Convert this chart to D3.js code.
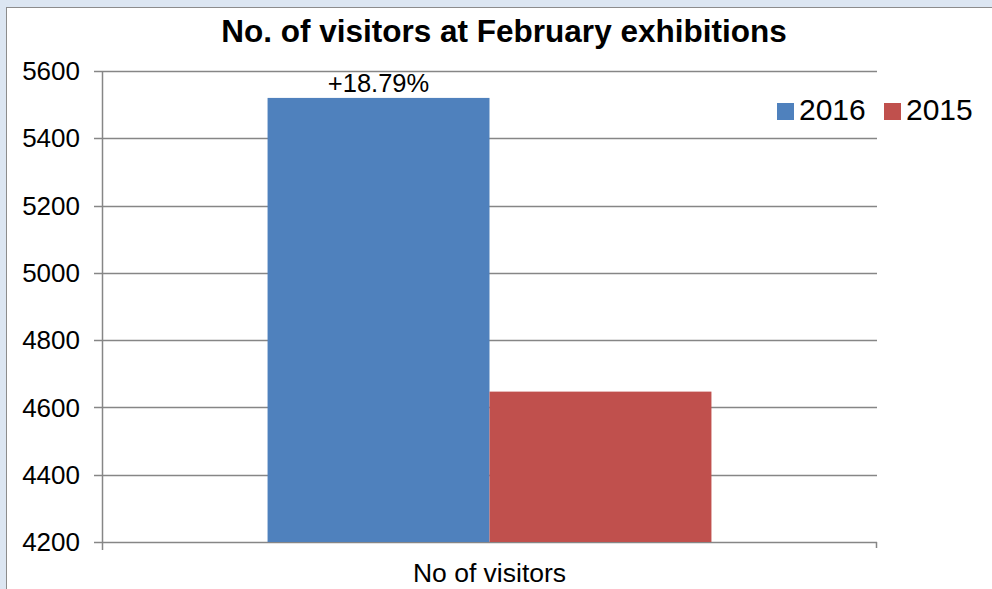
<!DOCTYPE html>
<html>
<head>
<meta charset="utf-8">
<script src="https://cdn.jsdelivr.net/npm/d3@7"></script>
<style>
  body { margin: 0; background: #dce6f2; }
  svg { display: block; font-family: 'Liberation Sans', Arial, sans-serif; }
</style>
</head>
<body>
<div id="chart"></div>
<script>
var categories = ['No of visitors']
var seriesNames = ['2016', '2015']
var seriesValues = [5520, 4647]
var seriesColors = ['#4f81bd', '#c0504d']
var yTicks = [4200, 4400, 4600, 4800, 5000, 5200, 5400, 5600]
var barLabel = '+18.79%'

var width = 992
var height = 589
var margin = { top: 71, left: 102, right: 115, bottom: 46 }

var svg = d3
  .select('#chart')
  .append('svg')
  .attr('width', width)
  .attr('height', height)

// chart frame
svg
  .append('rect')
  .attr('x', 6.5)
  .attr('y', 7.5)
  .attr('width', width)
  .attr('height', height)
  .attr('fill', 'white')
  .attr('stroke', '#8c8c8c')

var g = svg.append('g').attr('transform', 'translate(' + margin.left + ',' + margin.top + ')')
var innerW = width - margin.left - margin.right
var innerH = height - margin.top - margin.bottom - 1

var yScale = d3.scaleLinear().domain([4200, 5600]).range([innerH, 0])
var xScale = d3.scaleBand().domain(categories).range([0, innerW]).paddingInner(0).paddingOuter(0.373)
var xSub = d3.scaleBand().domain(seriesNames).range([0, xScale.bandwidth()])

// gridlines
g.selectAll('.grid')
  .data(yTicks)
  .enter()
  .append('line')
  .attr('class', 'grid')
  .attr('x1', -8)
  .attr('x2', innerW)
  .attr('y1', d => Math.round(yScale(d)) + 0.5)
  .attr('y2', d => Math.round(yScale(d)) + 0.5)
  .attr('stroke', '#868686')
  .attr('stroke-width', 1.5)

g.selectAll('.tick-label')
  .data(yTicks)
  .enter()
  .append('text')
  .attr('x', -22)
  .attr('y', d => yScale(d))
  .attr('dy', '0.35em')
  .attr('text-anchor', 'end')
  .attr('font-size', 26)
  .text(d => d)

// bars
g.selectAll('.bar')
  .data(seriesValues)
  .enter()
  .append('rect')
  .attr('class', 'bar')
  .attr('x', (d, i) => xScale(categories[0]) + xSub(seriesNames[i]))
  .attr('width', xSub.bandwidth())
  .attr('y', d => yScale(d))
  .attr('height', d => innerH - yScale(d))
  .attr('fill', (d, i) => seriesColors[i])

g.append('text')
  .attr('x', xScale(categories[0]) + xSub(seriesNames[0]) + xSub.bandwidth() / 2)
  .attr('y', yScale(seriesValues[0]) - 6)
  .attr('text-anchor', 'middle')
  .attr('font-size', 25.5)
  .text(barLabel)

// axes
g.append('line')
  .attr('x1', 0.5)
  .attr('x2', 0.5)
  .attr('y1', 0)
  .attr('y2', innerH + 8)
  .attr('stroke', '#868686')
  .attr('stroke-width', 1.5)

g.append('line')
  .attr('x1', innerW - 0.5)
  .attr('x2', innerW - 0.5)
  .attr('y1', innerH)
  .attr('y2', innerH + 6)
  .attr('stroke', '#868686')
  .attr('stroke-width', 1.5)

g.selectAll('.cat-label')
  .data(categories)
  .enter()
  .append('text')
  .attr('x', d => xScale(d) + xScale.bandwidth() / 2)
  .attr('y', innerH + 40)
  .attr('text-anchor', 'middle')
  .attr('font-size', 26.5)
  .text(d => d)

// title
svg
  .append('text')
  .attr('x', 504)
  .attr('y', 42)
  .attr('text-anchor', 'middle')
  .attr('font-size', 31.5)
  .attr('font-weight', 'bold')
  .text('No. of visitors at February exhibitions')

// legend
var legendX = [777, 884]
var legend = svg
  .selectAll('.legend')
  .data(seriesNames)
  .enter()
  .append('g')
  .attr('transform', (d, i) => 'translate(' + legendX[i] + ',103)')

legend
  .append('rect')
  .attr('width', 17)
  .attr('height', 17)
  .attr('fill', (d, i) => seriesColors[i])

legend
  .append('text')
  .attr('x', 22)
  .attr('y', 17)
  .attr('font-size', 30)
  .text(d => d)
</script>
</body>
</html>
